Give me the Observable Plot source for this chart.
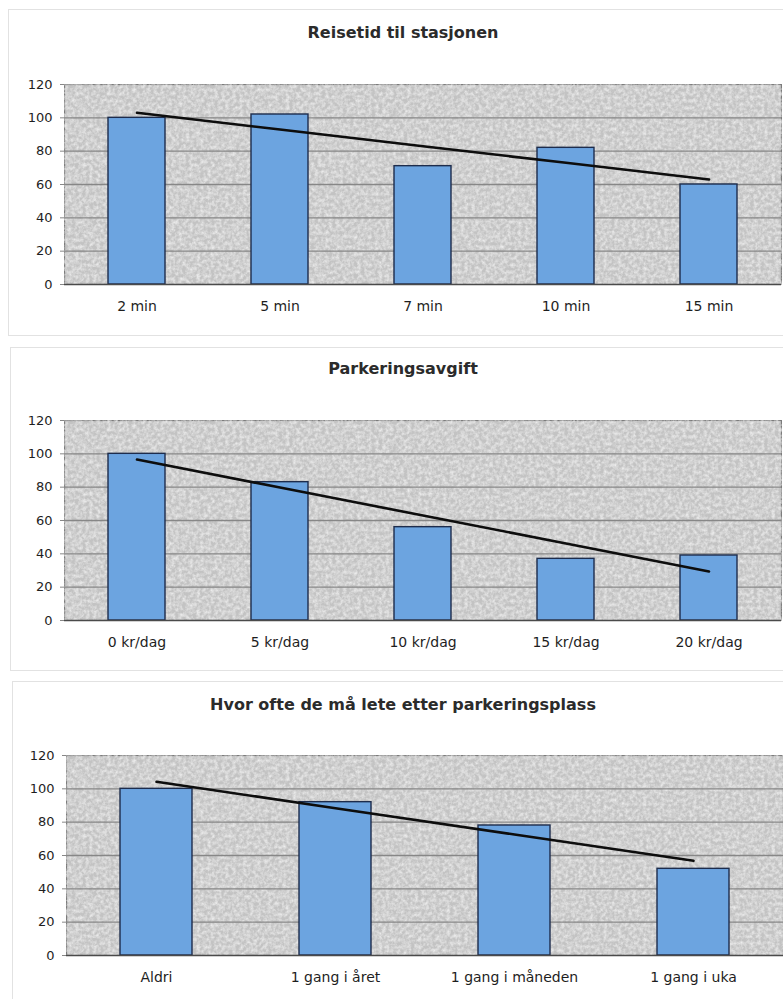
<!DOCTYPE html>
<html lang="no">
<head>
<meta charset="utf-8">
<script src="https://cdn.jsdelivr.net/npm/d3@7"></script>
<script src="https://cdn.jsdelivr.net/npm/@observablehq/plot@0.6"></script>
<style>
  html, body { margin: 0; padding: 0; background: #fff; }
  #page { position: relative; width: 783px; height: 999px; overflow: hidden; background: #fff; }
  .panel { position: absolute; border: 1px solid #e2e2e2; box-sizing: border-box; }
  .title {
    position: absolute; left: 0; width: 806px; text-align: center;
    font-family: "DejaVu Sans", sans-serif; font-weight: bold; font-size: 16px;
    line-height: 20px; color: #2b2b2b;
  }
  .chart { position: absolute; left: 0; }
  .chart svg { display: block; }
</style>
</head>
<body>
<div id="page"></div>
<svg width="0" height="0" style="position:absolute">
  <defs>
    <!-- soft light mottling over the grey plot background -->
    <filter id="grain" x="0" y="0" width="100%" height="100%">
      <feTurbulence type="fractalNoise" baseFrequency="0.28" numOctaves="3" seed="7" result="noise"/>
      <feColorMatrix in="noise" type="matrix"
        values="0 0 0 0 1  0 0 0 0 1  0 0 0 0 1  0 0 0 1.1 -0.36" result="speck"/>
      <feComposite in="speck" in2="SourceGraphic" operator="in" result="speckIn"/>
      <feMerge><feMergeNode in="SourceGraphic"/><feMergeNode in="speckIn"/></feMerge>
    </filter>
  </defs>
</svg>
<script>
// Reisetid til stasjonen
const reiseKategorier = ["2 min", "5 min", "7 min", "10 min", "15 min"];
const reiseVerdier = [100, 102, 71, 82, 60];

// Parkeringsavgift
const avgiftKategorier = ["0 kr/dag", "5 kr/dag", "10 kr/dag", "15 kr/dag", "20 kr/dag"];
const avgiftVerdier = [100, 83, 56, 37, 39];

// Hvor ofte de må lete etter parkeringsplass
const leteKategorier = ["Aldri", "1 gang i året", "1 gang i måneden", "1 gang i uka"];
const leteVerdier = [100, 92, 78, 52];

const yTicks = [0, 20, 40, 60, 80, 100, 120];

const titler = [
  "Reisetid til stasjonen",
  "Parkeringsavgift",
  "Hvor ofte de må lete etter parkeringsplass"
];

// Least-squares trend over the category index (1..n)
function trend(values) {
  const xs = values.map((_, i) => i + 1);
  const mx = d3.mean(xs), my = d3.mean(values);
  const b = d3.sum(xs, (x, i) => (x - mx) * (values[i] - my)) / d3.sum(xs, x => (x - mx) ** 2);
  const a = my - b * mx;
  return xs.map(x => a + b * x);
}

const page = document.getElementById("page");

// layout of each panel: box, title centre, chart frame top
const panels = [
  {kategorier: reiseKategorier, verdier: reiseVerdier, box: [8, 9, 800, 327], titleY: 33, frameTop: 84, left: 64},
  {kategorier: avgiftKategorier, verdier: avgiftVerdier, box: [10, 347, 800, 324], titleY: 369, frameTop: 420, left: 64},
  {kategorier: leteKategorier, verdier: leteVerdier, box: [12, 681, 800, 330], titleY: 705, frameTop: 755, left: 66}
];

panels.forEach((p, k) => {
  const box = document.createElement("div");
  box.className = "panel";
  box.style.left = p.box[0] + "px";
  box.style.top = p.box[1] + "px";
  box.style.width = p.box[2] + "px";
  box.style.height = p.box[3] + "px";
  page.appendChild(box);

  const title = document.createElement("div");
  title.className = "title";
  title.style.top = (p.titleY - 10) + "px";
  title.textContent = titler[k];
  page.appendChild(title);

  const rows = p.kategorier.map((c, i) => ({kategori: c, verdi: p.verdier[i]}));
  const fit = trend(p.verdier);
  const trendRows = p.kategorier.map((c, i) => ({kategori: c, verdi: fit[i]}));

  const marginTop = 10;
  const chart = Plot.plot({
    width: 783,
    height: marginTop + 200 + 44,
    marginTop,
    marginBottom: 44,
    marginLeft: p.left,
    marginRight: 783 - p.left - 717,
    style: {fontFamily: "DejaVu Sans, sans-serif", fontSize: "14px", color: "#1e1e1e", background: "transparent"},
    x: {type: "band", domain: p.kategorier, paddingInner: 0.6, paddingOuter: 0.3, label: null},
    y: {domain: [0, 120], label: null},
    marks: [
      Plot.frame({fill: "#c3c3c3", stroke: "#7c7c7c", strokeWidth: 1.2, className: "plotbg"}),
      Plot.ruleY(yTicks.filter(t => t > 0 && t < 120), {stroke: "#878787", strokeWidth: 1.3}),
      Plot.axisY({ticks: yTicks, tickSize: 4, tickPadding: 8, fontSize: 13, stroke: "#878787", label: null}),
      Plot.axisX({tickSize: 0, tickPadding: 17, fontSize: 14, label: null}),
      Plot.barY(rows, {x: "kategori", y: "verdi", fill: "#6ca4e0", stroke: "#1d2c4c", strokeWidth: 1.4}),
      Plot.ruleY([0], {stroke: "#4a4a4a", strokeWidth: 1.4}),
      Plot.line(trendRows, {x: "kategori", y: "verdi", stroke: "#0d0d0d", strokeWidth: 2.6})
    ]
  });

  // texture on the plot background
  d3.select(chart).selectAll(".plotbg").attr("filter", "url(#grain)");

  const holder = document.createElement("div");
  holder.className = "chart";
  holder.style.top = (p.frameTop - marginTop) + "px";
  holder.appendChild(chart);
  page.appendChild(holder);
});
</script>
</body>
</html>
